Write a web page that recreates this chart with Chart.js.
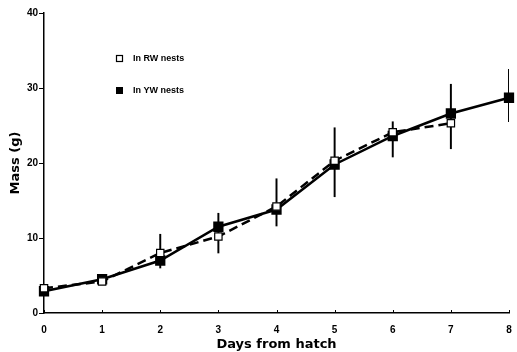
<!DOCTYPE html>
<html>
<head>
<meta charset="utf-8">
<script src="https://cdn.jsdelivr.net/npm/chart.js@4.4.0/dist/chart.umd.min.js"></script>
<style>
  html, body { margin: 0; padding: 0; background: #fff; }
  #wrap { width: 517px; height: 352px; }
</style>
</head>
<body>
<div id="wrap"><canvas id="c"></canvas></div>
<script>
// jours depuis l'éclosion
const days = ['0', '1', '2', '3', '4', '5', '6', '7', '8'];
// masse moyenne (g)
const rwMass = [3.3, 4.2, 8.0, 10.2, 14.2, 20.3, 24.1, 25.3, null];
const ywMass = [2.9, 4.5, 7.0, 11.5, 13.8, 19.8, 23.6, 26.6, 28.7];
// barres d'erreur (min / max)
const errLow = [null, null, 6.0, 8.0, 11.6, 15.5, 20.8, 21.9, 25.5];
const errHigh = [null, null, 10.5, 13.3, 17.9, 24.7, 25.5, 30.5, 32.5];
const yTicks = [0, 10, 20, 30, 40];

const legendItems = [
  { label: 'In RW nests', filled: false },
  { label: 'In YW nests', filled: true },
];

const font = "'Liberation Sans', Arial, sans-serif";
const titleFont = "'DejaVu Sans', sans-serif";

// petits traits vers l'intérieur sur l'axe x + légende
const extras = {
  id: 'extras',
  afterDraw(chart) {
    const ctx = chart.ctx;
    const xs = chart.scales.x;
    const area = chart.chartArea;
    ctx.save();
    ctx.strokeStyle = '#000';
    ctx.lineWidth = 1;
    xs.ticks.forEach((t, i) => {
      const px = Math.round(xs.getPixelForTick(i)) + 0.5;
      ctx.beginPath();
      ctx.moveTo(px, area.bottom);
      ctx.lineTo(px, area.bottom - 3);
      ctx.stroke();
    });
    ctx.font = 'bold 9px ' + font;
    ctx.textBaseline = 'middle';
    ctx.fillStyle = '#000';
    legendItems.forEach((it, i) => {
      const y = 58 + i * 32;
      if (it.filled) {
        ctx.fillRect(116, y - 3, 7, 7);
      } else {
        ctx.lineWidth = 1.2;
        ctx.strokeRect(116.5, y - 2.5, 6, 6);
      }
      ctx.fillText(it.label, 133, y + 0.5);
    });
    ctx.restore();
  }
};

new Chart(document.getElementById('c'), {
  type: 'line',
  data: {
    labels: days,
    datasets: [
      {
        type: 'bar',
        label: 'err',
        data: errLow.map((lo, i) => (lo === null ? null : [lo, errHigh[i]])),
        backgroundColor: '#000',
        barThickness: 1.3,
        order: 3,
      },
      {
        label: 'In RW nests',
        data: rwMass,
        borderColor: '#000',
        borderWidth: 2.5,
        borderDash: [9, 5],
        pointStyle: 'rect',
        pointRadius: 5.2,
        pointBorderWidth: 1.2,
        pointBackgroundColor: '#fff',
        pointBorderColor: '#000',
        tension: 0,
        order: 1,
      },
      {
        label: 'In YW nests',
        data: ywMass,
        borderColor: '#000',
        borderWidth: 2.5,
        pointStyle: 'rect',
        pointRadius: 5.5,
        pointBackgroundColor: '#000',
        pointBorderColor: '#000',
        tension: 0,
        order: 2,
      },
    ],
  },
  options: {
    responsive: true,
    maintainAspectRatio: false,
    animation: false,
    layout: { padding: { top: 13, right: 3, left: 0, bottom: 0 } },
    plugins: { legend: { display: false }, tooltip: { enabled: false } },
    scales: {
      x: {
        type: 'category',
        offset: false,
        grid: { display: false },
        border: { color: '#000', width: 1.5 },
        ticks: { color: '#000', font: { family: font, size: 10, weight: 'bold' }, padding: 3, maxRotation: 0 },
        title: { display: true, text: 'Days from hatch', color: '#000', font: { family: titleFont, size: 13, weight: 'bold' }, padding: { top: 1, bottom: 0 } },
        afterFit: (s) => { s.height = 39; s.paddingRight = 0; },
      },
      y: {
        min: 0,
        max: 40,
        afterBuildTicks: (s) => { s.ticks = yTicks.map((v) => ({ value: v })); },
        grid: { drawOnChartArea: false, color: '#000', tickLength: 5 },
        border: { color: '#000', width: 1.5 },
        ticks: { color: '#000', font: { family: font, size: 10, weight: 'bold' }, padding: 1 },
        title: { display: true, text: 'Mass (g)', color: '#000', font: { family: titleFont, size: 13, weight: 'bold' }, padding: { top: 8, bottom: 0 } },
        afterFit: (s) => { s.width = 44; },
      },
    },
  },
  plugins: [extras],
});
</script>
</body>
</html>
